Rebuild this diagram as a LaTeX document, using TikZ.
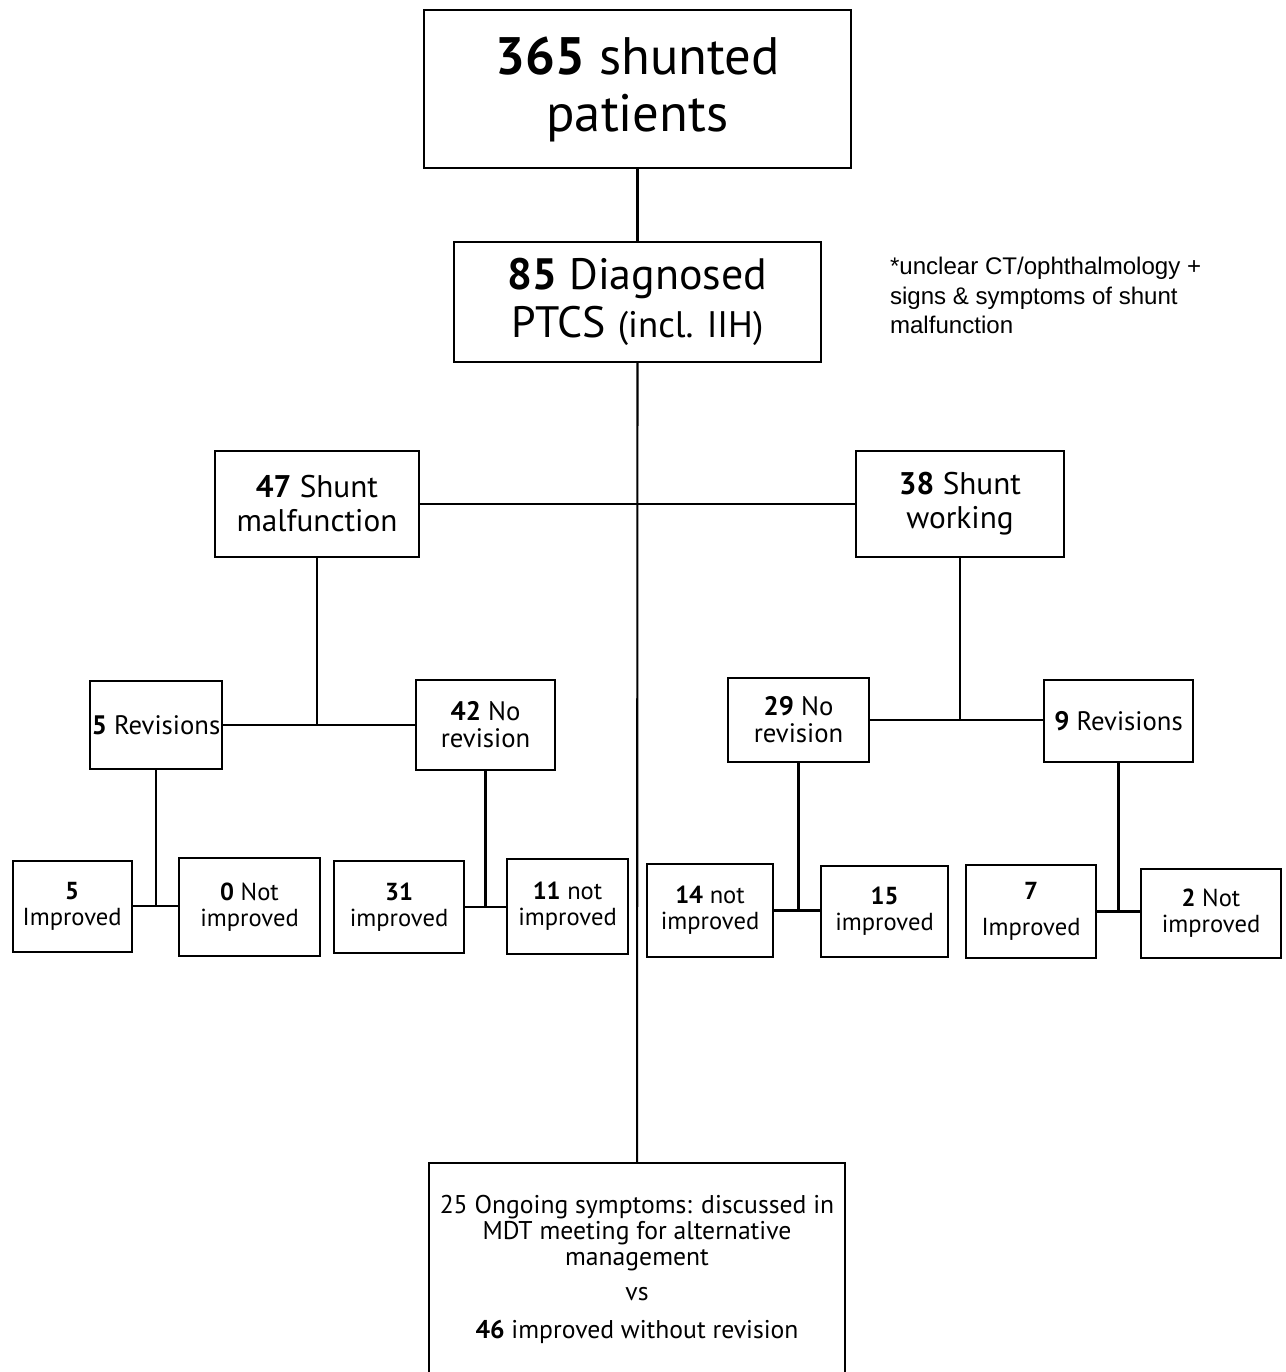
\documentclass[tikz,border=0pt]{standalone}
\usepackage{fontspec}
\setmainfont{PT Sans}
\newfontfamily\notefont{Liberation Sans}

\begin{document}
\begin{tikzpicture}[x=0.02cm,y=-0.02cm,line width=1.2pt,
  box/.style={draw,align=center,inner sep=1pt},
  huge/.style={font=\fontsize{30}{32.4}\selectfont},
  big/.style={font=\fontsize{25}{27.3}\selectfont},
  mid/.style={font=\fontsize{17.8}{19.4}\selectfont},
  small/.style={font=\fontsize{15.2}{15.5}\selectfont},
  leaf/.style={font=\fontsize{14}{14.8}\selectfont}]
\useasboundingbox (0,0) rectangle (1285,1372);

% top of the tree
\node[box,huge,minimum width=8.54cm,minimum height=3.16cm] (top) at (637.5,89)
  {\textbf{365} shunted\\patients};
\node[box,big,minimum width=7.34cm,minimum height=2.4cm] (diag) at (637.5,302)
  {\textbf{85} Diagnosed\\PTCS {\fontsize{21}{24}\selectfont (incl. IIH)}};
\node[font=\notefont\fontsize{13.7}{16.8}\selectfont,align=left,anchor=north west,inner sep=0pt] (note) at (889,256)
  {*unclear CT/ophthalmology +\\signs \& symptoms of shunt\\malfunction};

% shunt status
\node[box,mid,minimum width=4.08cm,minimum height=2.12cm] (malf) at (317,504)
  {\textbf{47} Shunt\\malfunction};
\node[box,mid,minimum width=4.16cm,minimum height=2.12cm] (work) at (960,504)
  {\textbf{38} Shunt\\working};

% revisions
\node[box,small,minimum width=2.64cm,minimum height=1.76cm] (rev5) at (156,725)
  {\textbf{5} Revisions};
\node[box,small,minimum width=2.78cm,minimum height=1.8cm] (norev42) at (485.5,725)
  {\textbf{42} No\\revision};
\node[box,small,minimum width=2.82cm,minimum height=1.68cm] (norev29) at (798.5,720)
  {\textbf{29} No\\revision};
\node[box,small,minimum width=2.98cm,minimum height=1.64cm] (rev9) at (1118.5,721)
  {\textbf{9} Revisions};

% outcomes
\node[box,leaf,minimum width=2.38cm,minimum height=1.82cm] (imp5) at (72.2,906.2)
  {\textbf{5}\\Improved};
\node[box,leaf,minimum width=2.82cm,minimum height=1.96cm] (not0) at (249.5,907)
  {\textbf{0} Not\\improved};
\node[box,leaf,minimum width=2.6cm,minimum height=1.84cm] (imp31) at (399,907)
  {\textbf{31}\\improved};
\node[box,leaf,minimum width=2.42cm,minimum height=1.9cm] (not11) at (567.5,906.5)
  {\textbf{11} not\\improved};
\node[box,leaf,minimum width=2.52cm,minimum height=1.86cm] (not14) at (710,910.5)
  {\textbf{14} not\\improved};
\node[box,leaf,minimum width=2.54cm,minimum height=1.82cm] (imp15) at (884.5,911.5)
  {\textbf{15}\\improved};
\node[box,leaf,minimum width=2.6cm,minimum height=1.86cm] (imp7) at (1031,911.5)
  {\textbf{7}\\[6pt]Improved};
\node[box,leaf,minimum width=2.8cm,minimum height=1.78cm] (not2) at (1211,913.5)
  {\textbf{2} Not\\improved};

% summary
\node[box,font=\fontsize{14.6}{14.8}\selectfont,minimum width=8.32cm,minimum height=4.26cm] (ongoing) at (637,1269.5)
  {25 Ongoing symptoms: discussed in\\MDT meeting for alternative\\management\\[5pt]
   vs\\[7pt]\textbf{46} improved without revision};

\draw (top) -- (diag);
\draw (diag) -- (ongoing);
\draw (malf) -- (work);
\foreach \parent/\lkid/\rkid in
{malf/rev5/norev42, work/norev29/rev9, rev5/imp5/not0,
 norev42/imp31/not11, norev29/not14/imp15, rev9/imp7/not2}
{
\draw (\lkid.east) -- (\lkid.east -| \rkid.west);
\draw (\parent.south) -- (\parent.south |- \lkid.east);
}
\end{tikzpicture}
\end{document}
